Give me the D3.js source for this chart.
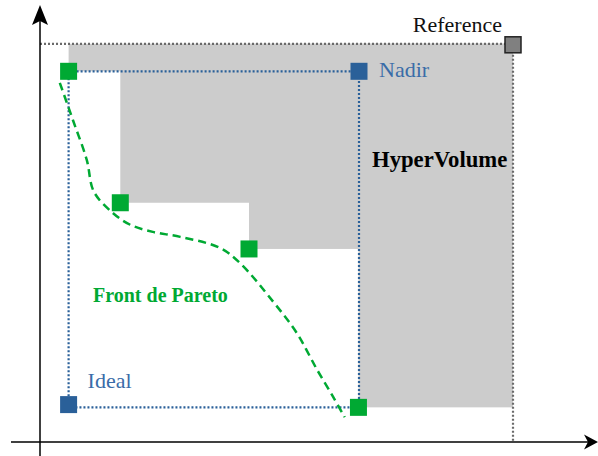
<!DOCTYPE html>
<html>
<head>
<meta charset="utf-8">
<script src="https://cdn.jsdelivr.net/npm/d3@7"></script>
<style>
  body { margin: 0; background: #fff; }
  svg { display: block; }
  text { font-family: "Liberation Serif", "DejaVu Serif", serif; }
</style>
</head>
<body>
<svg id="graph" width="598" height="456"></svg>
<script>
// DATA (abstract objective units)
var paretoX = [0.52, 1.46, 3.80, 5.79];
var paretoY = [6.74, 4.35, 3.51, 0.63];
var frontX = [0.36, 0.60, 0.85, 0.98, 1.33, 1.64, 2.05, 2.55, 3.27, 3.64, 4.24, 4.67, 5.04, 5.33, 5.54];
var frontY = [6.53, 5.85, 5.13, 4.55, 4.16, 3.95, 3.82, 3.73, 3.53, 3.25, 2.55, 1.98, 1.31, 0.82, 0.45];
var nadir = [5.80, 6.74];
var ideal = [0.52, 0.63];
var reference = [8.60, 7.24];
var labels = ["Reference", "Nadir", "Ideal", "HyperVolume", "Front de Pareto"];

var green = '#00a933';
var blue = '#2a6099';

var x = d3.scaleLinear().domain([0, 10]).range([40, 590]);
var y = d3.scaleLinear().domain([0, 8]).range([442, 2]);

var svg = d3.select("#graph");

/*

  HYPERVOLUME (union of boxes from each pareto point to the reference)

*/
var pareto = paretoX.map(function (d, i) { return [d, paretoY[i]]; });

svg.append('g').selectAll('rect')
  .data(pareto)
  .enter().append('rect')
    .attr('x', function (d) { return x(d[0]); })
    .attr('y', y(reference[1]))
    .attr('width', function (d) { return x(reference[0]) - x(d[0]); })
    .attr('height', function (d) { return y(d[1]) - y(reference[1]); })
    .style('fill', '#cccccc');

//REFERENCE DOTTED LINES
svg.append('path')
  .attr('d', d3.line()([
    [x(0), y(reference[1])],
    [x(reference[0]), y(reference[1])],
    [x(reference[0]), y(0)]
  ]))
  .style('fill', 'none')
  .style('stroke', '#6a6a6a')
  .style('stroke-width', 2.2)
  .style('stroke-dasharray', '2,2');

//IDEAL / NADIR BOX
svg.append('rect')
  .attr('x', x(ideal[0]))
  .attr('y', y(nadir[1]))
  .attr('width', x(nadir[0]) - x(ideal[0]))
  .attr('height', y(ideal[1]) - y(nadir[1]))
  .style('fill', 'none')
  .style('stroke', blue)
  .style('stroke-width', 2.2)
  .style('stroke-dasharray', '2,2');

//PARETO FRONT CURVE
var front = frontX.map(function (d, i) { return [x(d), y(frontY[i])]; });
svg.append('path')
  .attr('d', d3.line().curve(d3.curveCatmullRom)(front))
  .style('fill', 'none')
  .style('stroke', green)
  .style('stroke-width', 2.5)
  .style('stroke-dasharray', '8,5');

//SQUARES
var s = 17;
svg.append('g').selectAll('rect')
  .data(pareto)
  .enter().append('rect')
    .attr('x', function (d) { return x(d[0]) - s / 2; })
    .attr('y', function (d) { return y(d[1]) - s / 2; })
    .attr('width', s).attr('height', s)
    .style('fill', green);

[nadir, [ideal[0], ideal[1] + 0.05]].forEach(function (p) {
  svg.append('rect')
    .attr('x', x(p[0]) - s / 2).attr('y', y(p[1]) - s / 2)
    .attr('width', s).attr('height', s)
    .style('fill', blue);
});

svg.append('rect')
  .attr('x', x(reference[0]) - 8).attr('y', y(reference[1]) - 7)
  .attr('width', 16).attr('height', 16)
  .style('fill', '#808080')
  .style('stroke', '#222')
  .style('stroke-width', 1.5);

//AXES
var axisColor = '#000';
svg.append('line')
  .attr('x1', 11).attr('x2', 588)
  .attr('y1', y(0)).attr('y2', y(0))
  .style('stroke', axisColor).style('stroke-width', 1.5);
svg.append('line')
  .attr('x1', x(0)).attr('x2', x(0))
  .attr('y1', 456).attr('y2', 16)
  .style('stroke', axisColor).style('stroke-width', 1.5);

//ARROW HEADS
svg.append('path')
  .attr('d', 'M' + x(0) + ',5 L' + (x(0) + 8) + ',25 L' + x(0) + ',21 L' + (x(0) - 8) + ',25 Z')
  .style('fill', axisColor);
svg.append('path')
  .attr('d', 'M598,' + y(0) + ' L584,' + (y(0) - 7.5) + ' L588,' + y(0) + ' L584,' + (y(0) + 7.5) + ' Z')
  .style('fill', axisColor);

//TEXTS
svg.append('text')
  .text(labels[0])
  .attr('x', x(reference[0]) - 11).attr('y', 32)
  .attr('text-anchor', 'end')
  .attr('font-size', 22)
  .attr('fill', '#111');

svg.append('text')
  .text(labels[1])
  .attr('x', x(nadir[0]) + 20).attr('y', y(nadir[1]) + 6)
  .attr('font-size', 22)
  .attr('fill', '#3a6ca8');

svg.append('text')
  .text(labels[2])
  .attr('x', x(ideal[0]) + 19).attr('y', 388)
  .attr('font-size', 22)
  .attr('fill', '#3a6ca8');

svg.append('text')
  .text(labels[3])
  .attr('x', 372).attr('y', 167)
  .attr('font-size', 22.7)
  .attr('font-weight', 'bold')
  .attr('fill', '#000');

svg.append('text')
  .text(labels[4])
  .attr('x', 93).attr('y', 302)
  .attr('font-size', 20)
  .attr('font-weight', 'bold')
  .attr('fill', green);
</script>
</body>
</html>
